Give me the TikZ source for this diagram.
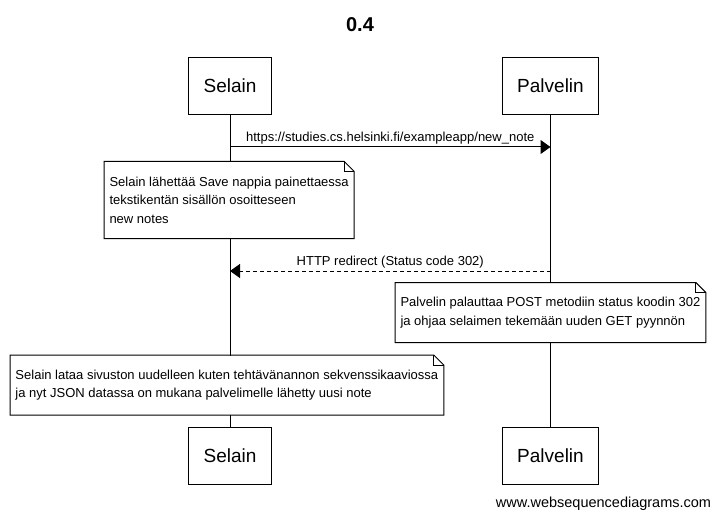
\documentclass[tikz,border=0pt]{standalone}
\usepackage{fontspec}
\setmainfont{Liberation Sans}
\usetikzlibrary{arrows.meta, positioning}

\begin{document}
\begin{tikzpicture}[x=1pt, y=-1pt, line width=1pt,
    font=\fontsize{13}{18.5}\selectfont, >={Triangle[length=10pt, width=14pt]},
    actor/.style={draw, fill=white, font=\fontsize{19}{22}\selectfont,
                  inner xsep=15pt, inner ysep=0pt, minimum height=57pt},
    note/.style={fill=white, align=left, anchor=west, inner xsep=5pt, inner ysep=0pt},
    msg/.style={above, inner sep=2pt}]

  \useasboundingbox (0,0) rectangle (716,519);

  % Title
  \node[font=\bfseries\fontsize{20}{24}\selectfont] (title) at (360,25) {0.4};

  % The two participants, top and bottom.
  \node[actor] (selTop) at (230,86) {Selain};
  \node[actor] (palTop) at (550.5,86) {Palvelin};
  \node[actor] (selBot) at (230,455.5) {Selain};
  \node[actor] (palBot) at (550.5,455.5) {Palvelin};

  % Lifelines
  \draw (selTop) -- (selBot);
  \draw (palTop) -- (palBot);

  % Messages
  \coordinate (postS) at (selTop.south |- 0,147);
  \coordinate (postP) at (palTop.south |- 0,147);
  \coordinate (redirS) at (selTop.south |- 0,271);
  \coordinate (redirP) at (palTop.south |- 0,271);
  \draw[->] (postS) -- node[msg] {https://studies.cs.helsinki.fi/exampleapp/new\_note} (postP);
  \draw[->, dash pattern=on 4pt off 3pt] (redirP) -- node[msg] {HTTP redirect (Status code 302)} (redirS);

  % Notes
  \node[note, minimum height=76pt] (note1) at (104,200)
    {Selain lähettää Save nappia painettaessa\\tekstikentän sisällön osoitteseen\\new notes};
  \node[note, minimum height=59pt] (note2) at (395,312.5)
    {Palvelin palauttaa POST metodiin status koodin 302\\ja ohjaa selaimen tekemään uuden GET pyynnön};
  \node[note, minimum height=59pt] (note3) at (10,385)
    {Selain lataa sivuston uudelleen kuten tehtävänannon sekvenssikaaviossa\\ja nyt JSON datassa on mukana palvelimelle lähetty uusi note};
  \foreach \n in {note1, note2, note3} {
    \draw (\n.north west) -- ([xshift=-10pt]\n.north east) -- ([yshift=-10pt]\n.north east)
      -- (\n.south east) -- (\n.south west) -- cycle;
    \draw ([xshift=-10pt]\n.north east) |- ([yshift=-10pt]\n.north east);
  }

  \node[font=\fontsize{14.5}{17}\selectfont] (site) at (603.5,504) {www.websequencediagrams.com};
\end{tikzpicture}
\end{document}
